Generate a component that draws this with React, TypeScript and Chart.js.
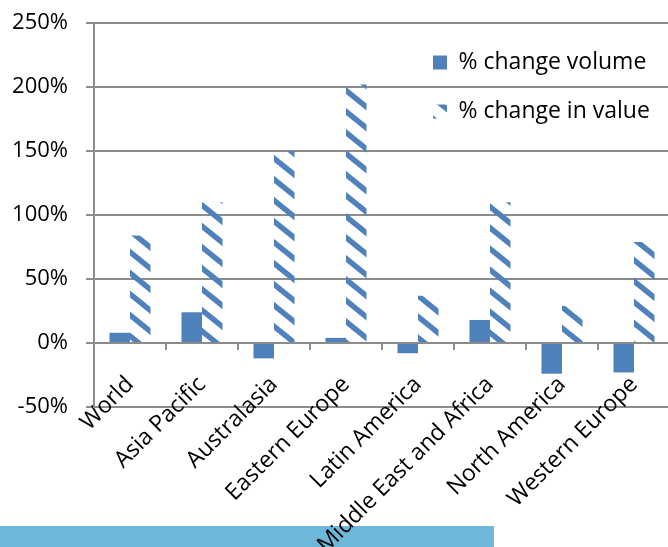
import React, { useEffect, useRef } from 'react';
import { Chart, registerables } from 'chart.js';

Chart.register(...registerables);

const categories = [
  'World',
  'Asia Pacific',
  'Australasia',
  'Eastern Europe',
  'Latin America',
  'Middle East and Africa',
  'North America',
  'Western Europe',
];
const volumeChange = [8, 24, -12, 4, -8, 18, -24, -23];
const valueChange = [84, 110, 150, 202, 37, 110, 29, 79];
const seriesNames = ['% change volume', '% change in value'];
const yMin = -50;
const yMax = 250;
const yStep = 50;

const FONT = "'Open Sans', sans-serif";
const GRID = '#8c8c8c';
const BLUE = '#4F81BD';
const LABEL_SHIFT = 80; // extends the x label clip box upwards

function makeStripes(): CanvasPattern | string {
  const c = document.createElement('canvas');
  c.width = 26;
  c.height = 21;
  const g = c.getContext('2d');
  if (!g) return BLUE;
  g.strokeStyle = BLUE;
  g.lineWidth = 5.5;
  const k = 21 / 26;
  for (const off of [-21, 0, 21]) {
    g.beginPath();
    g.moveTo(-2, off - 2 * k);
    g.lineTo(28, off + 21 + 2 * k);
    g.stroke();
  }
  return g.createPattern(c, 'repeat') || BLUE;
}

const layoutTweak = {
  id: 'layoutTweak',
  afterLayout(chart: any) {
    const lg = chart.legend;
    if (lg) {
      lg.left = 407;
      lg.top = 25;
      lg.right = 668;
      lg.bottom = 320;
    }
    const xs = chart.scales.x;
    if (xs) {
      xs.top -= LABEL_SHIFT;
    }
  },
};

export default function App() {
  const ref = useRef<HTMLCanvasElement>(null);
  useEffect(() => {
    if (!ref.current) return;
    const stripes = makeStripes();
    const chart = new Chart(ref.current, {
      type: 'bar',
      data: {
        labels: categories,
        datasets: [
          {
            label: seriesNames[0],
            data: volumeChange,
            backgroundColor: BLUE,
            borderWidth: 0,
            categoryPercentage: 0.57,
            barPercentage: 1,
            xAxisID: 'x',
          },
          {
            label: seriesNames[1],
            data: valueChange,
            backgroundColor: stripes as any,
            borderWidth: 0,
            categoryPercentage: 0.57,
            barPercentage: 1,
            xAxisID: 'x',
          },
        ],
      },
      options: {
        animation: false,
        responsive: false,
        devicePixelRatio: 1,
        layout: { padding: { left: 0, top: 23, right: 2, bottom: 0 } },
        scales: {
          x: {
            type: 'category',
            position: 'bottom',
            offset: true,
            grid: { display: false, drawTicks: false },
            border: { display: false },
            ticks: {
              autoSkip: false,
              maxRotation: 45,
              minRotation: 45,
              padding: -36 + LABEL_SHIFT,
              color: '#000',
              font: { family: FONT, size: 23 },
            },
            afterFit: (s: any) => {
              s.height = 140;
              s.paddingLeft = 0;
              s.paddingRight = 0;
            },
          },
          x0: {
            type: 'category',
            position: { y: 0 } as any,
            offset: true,
            grid: {
              offset: true,
              drawOnChartArea: false,
              drawTicks: true,
              tickLength: 6,
              color: GRID,
              lineWidth: 2,
            },
            border: { display: true, color: GRID, width: 2 },
            ticks: { display: false },
          },
          y: {
            min: yMin,
            max: yMax,
            ticks: {
              stepSize: yStep,
              callback: (v: any) => v + '%',
              padding: 18,
              color: '#000',
              font: { family: FONT, size: 22 },
            },
            grid: { color: GRID, lineWidth: 2, tickLength: 8 },
            border: { color: GRID, width: 2 },
            afterFit: (s: any) => {
              s.width = 94;
              s.paddingTop = 0;
              s.paddingBottom = 0;
            },
          },
        },
        plugins: {
          legend: {
            position: 'chartArea' as any,
            align: 'start',
            labels: {
              boxWidth: 14,
              boxHeight: 14,
              padding: 26,
              color: '#000',
              font: { family: FONT, size: 23 },
            },
          },
          tooltip: { enabled: false },
        },
      },
      plugins: [layoutTweak],
    });
    return () => chart.destroy();
  }, []);

  return (
    <div
      style={{
        position: 'fixed',
        left: 0,
        top: 0,
        width: 668,
        height: 547,
        overflow: 'hidden',
        background: '#fff',
      }}
    >
      <div
        style={{
          position: 'absolute',
          left: 0,
          top: 526,
          width: 494,
          height: 21,
          background: '#6DB8D8',
        }}
      />
      <canvas
        ref={ref}
        width={672}
        height={547}
        style={{ position: 'absolute', left: 0, top: 0 }}
      />
    </div>
  );
}
